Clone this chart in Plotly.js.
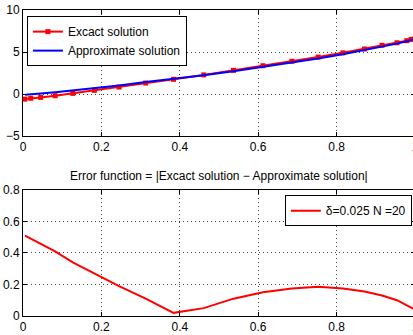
<!DOCTYPE html>
<html><head><meta charset="utf-8">
<script src="https://cdn.plot.ly/plotly-3.0.1.min.js"></script>
<style>html,body{margin:0;padding:0;overflow:hidden;background:#fff}#c{width:420px;height:335px}</style>
</head><body><div id="c"></div>
<script>
const xNodes = [0.005,0.02,0.045,0.082,0.127,0.182,0.245,0.313,0.384,0.461,0.537,0.612,0.686,0.753,0.816,0.871,0.916,0.954,0.979,0.99,1.0];
const exact = [-0.6,-0.5,-0.4,-0.2,0.08,0.44,0.83,1.31,1.75,2.28,2.82,3.37,3.9,4.4,4.9,5.36,5.8,6.1,6.35,6.5,6.6];
const approx = [-0.09,-0.01,0.06,0.21,0.42,0.71,1.02,1.42,1.77,2.23,2.71,3.22,3.73,4.22,4.73,5.2,5.67,6.0,6.28,6.44,6.56];
const errVals = [0.51,0.49,0.46,0.41,0.34,0.27,0.19,0.11,0.02,0.05,0.11,0.15,0.175,0.185,0.175,0.155,0.13,0.1,0.07,0.055,0.04];
const xTicks = [0,0.2,0.4,0.6,0.8,1];
const yTopTicks = [-5,0,5,10];
const yBotTicks = [0,0.2,0.4,0.6,0.8];
const errTitle = 'Error function = |Excact solution \u2212 Approximate solution|';

const F = 'Liberation Sans, Arial, sans-serif';
const axBase = {
  showline:true, linecolor:'#000', linewidth:1, mirror:'ticks',
  ticks:'inside', ticklen:4, tickcolor:'#000', tickwidth:1,
  showgrid:true, gridcolor:'#444', griddash:'1px,3px', gridwidth:1,
  zeroline:false, tickfont:{family:F,size:12,color:'#000'}
};
const traces = [
  {x:xNodes,y:exact,xaxis:'x',yaxis:'y',mode:'lines+markers',name:'Excact solution',
   line:{color:'#ff0000',width:2},marker:{symbol:'square',size:5,color:'#ff0000'},legend:'legend'},
  {x:xNodes,y:approx,xaxis:'x',yaxis:'y',mode:'lines',name:'Approximate solution',
   line:{color:'#0000ff',width:2},legend:'legend'},
  {x:xNodes,y:errVals,xaxis:'x2',yaxis:'y2',mode:'lines',name:'\u03b4=0.025 N =20',
   line:{color:'#ff0000',width:2},legend:'legend2'}
];
const layout = {
  width:420,height:335,margin:{l:23,r:5,t:10,b:19},
  paper_bgcolor:'#fff',plot_bgcolor:'#fff',showlegend:true,
  font:{family:F,size:12,color:'#000'},
  xaxis:Object.assign({},axBase,{range:[0,1],tickvals:xTicks,ticktext:xTicks.map(String),anchor:'y'}),
  yaxis:Object.assign({},axBase,{range:[-5,10],tickvals:yTopTicks,domain:[0.588,1],anchor:'x'}),
  xaxis2:Object.assign({},axBase,{range:[0,1],tickvals:xTicks,ticktext:xTicks.map(String),anchor:'y2'}),
  yaxis2:Object.assign({},axBase,{range:[0,0.8],tickvals:yBotTicks,ticktext:['0','0.2','0.4','0.6','0.8'],domain:[0,0.412],anchor:'x2'}),
  legend:{x:0.01,y:0.98,xanchor:'left',yanchor:'top',bgcolor:'#fff',bordercolor:'#000',borderwidth:1,
    font:{family:F,size:12},tracegroupgap:0,itemwidth:30},
  legend2:{x:0.992,y:0.395,xanchor:'right',yanchor:'top',bgcolor:'#fff',bordercolor:'#000',borderwidth:1,
    font:{family:F,size:12},itemwidth:30},
  annotations:[{text:errTitle,xref:'paper',yref:'paper',x:0.5,y:0.456,xanchor:'center',yanchor:'middle',
    showarrow:false,font:{family:F,size:12,color:'#000'}}]
};
Plotly.newPlot('c',traces,layout,{displayModeBar:false,staticPlot:true});
</script></body></html>
